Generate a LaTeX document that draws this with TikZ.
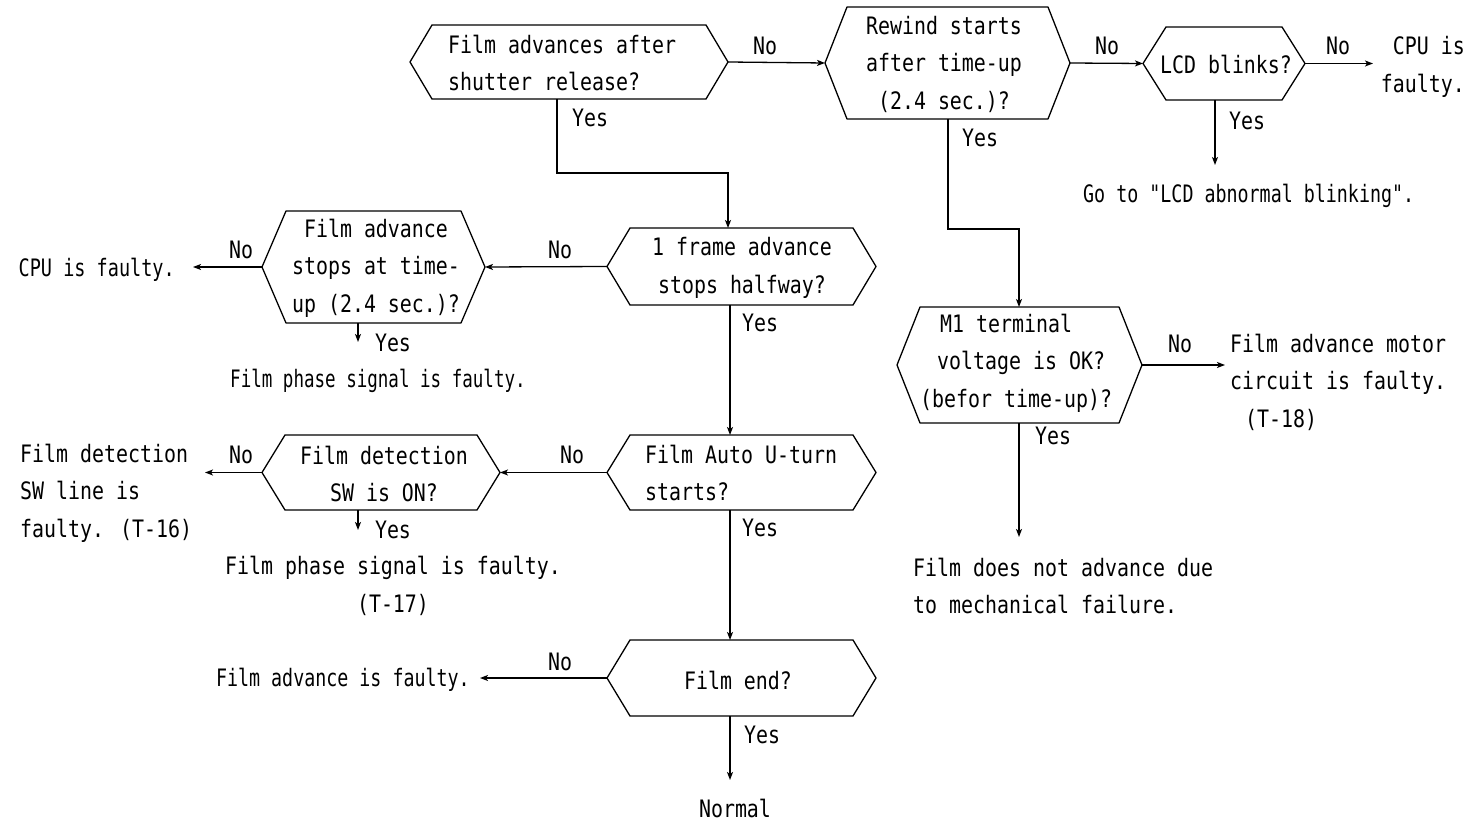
\documentclass[tikz,border=0pt]{standalone}
\usepackage{fontspec}
\usetikzlibrary{arrows.meta}
\newfontfamily\flowfont[FakeStretch=0.83]{DejaVu Sans Mono}

\tikzset{
  hexline/.style={line width=1.3pt, line join=round},
  link/.style={line width=1.3pt},
  arr/.style={link, -{Stealth[length=8pt,width=6pt,inset=2pt]}},
  txt/.style={inner sep=0pt, font=\flowfont\fontsize{24}{37.5}\selectfont},
}

% horizontally condensed text
\newcommand\narrow[2]{\scalebox{#1}[1]{#2}}

% decision box: name, x of left tip, x of right tip, y top, y bottom, corner inset
\newcommand\hexbox[6]{%
  \coordinate (#1-w) at (#2,{(#4+#5)/2});
  \coordinate (#1-e) at (#3,{(#4+#5)/2});
  \draw[hexline] (#1-w) -- ({#2+#6},#4) -- ({#3-#6},#4) -- (#1-e)
     -- ({#3-#6},#5) -- ({#2+#6},#5) -- cycle;
}

\begin{document}
\begin{tikzpicture}[x=1pt,y=-1pt]
\useasboundingbox (0,0) rectangle (1484,826);

% ---------- decision boxes ----------
\hexbox{a}{410}{728}{25}{99}{22}
\hexbox{b}{825}{1070}{7}{119}{22}
\hexbox{c}{1143}{1305}{27}{100}{23}
\hexbox{d}{607}{876}{228}{305}{23}
\hexbox{e}{262}{485}{211}{323}{24}
\hexbox{f}{607}{876}{435}{510}{23}
\hexbox{g}{262}{500}{435}{510}{23}
\hexbox{h}{607}{876}{640}{716}{23}
\hexbox{m}{897}{1142}{307}{423}{23}

% attach points on box edges
\coordinate (a-s) at (557,99);
\coordinate (b-s) at (948,119);
\coordinate (c-s) at (1215,100);
\coordinate (d-n) at (728,228);
\coordinate (d-s) at (730,305);
\coordinate (e-s) at (358,323);
\coordinate (f-n) at (730,435);
\coordinate (f-s) at (730,510);
\coordinate (g-s) at (358,510);
\coordinate (h-n) at (730,640);
\coordinate (h-s) at (730,716);
\coordinate (m-n) at (1019,307);
\coordinate (m-s) at (1019,423);

% ---------- box texts ----------
\node[txt, anchor=west, align=left] (ta) at (448,63) {Film advances after\\shutter release?};
\node[txt, align=center] (tb) at (944,64) {Rewind starts\\after time-up\\(2.4 sec.)?};
\node[txt] (tc) at (1226,64) {LCD blinks?};
\node[txt, align=center] (td) at (742,268) {1 frame advance\\stops halfway?};
\node[txt, align=center] (te) at (376,268) {Film advance\\stops at time-\\up (2.4 sec.)?};
\node[txt, anchor=west, align=left] (tf) at (645,473) {Film Auto U-turn\\starts?};
\node[txt, align=center] (tg) at (384,474) {Film detection\\SW is ON?};
\node[txt] (th) at (738,680) {Film end?};
\node[txt, anchor=west, align=left] (tm) at (920,363)
  {\hspace*{20pt}M1 terminal\\\hspace*{17pt}voltage is OK?\\(befor time-up)?};

% ---------- results ----------
\node[txt, anchor=east, align=right] (r1) at (1465,67) {CPU is\\faulty.};
\node[txt, anchor=west] (r2) at (1083,196) {\narrow{0.92}{Go to "LCD abnormal blinking".}};
\node[txt, anchor=east] (r3) at (175,270) {\narrow{0.93}{CPU is faulty.}};
\node[txt, anchor=west] (r4) at (230,381) {\narrow{0.88}{Film phase signal is faulty.}};
\node[txt, anchor=west, align=left] (r5) at (20,493) {Film detection\\SW line is\\faulty. (T-16)};
\node[txt, align=center] (r6) at (393,586) {Film phase signal is faulty.\\(T-17)};
\node[txt, anchor=east] (r7) at (470,680) {\narrow{0.92}{Film advance is faulty.}};
\node[txt] (r8) at (735,808) {Normal};
\node[txt, anchor=west, align=left] (r9) at (1230,382)
  {Film advance motor\\circuit is faulty.\\\hspace*{15pt}(T-18)};
\node[txt, anchor=west, align=left] (r10) at (913,586)
  {Film does not advance due\\to mechanical failure.};

% free ends of the result arrows
\coordinate (c-no) at ([xshift=68pt]c-e);
\coordinate (c-yes) at (1215,165);
\coordinate (e-no) at ([xshift=-69pt]e-w);
\coordinate (e-yes) at (358,342);
\coordinate (g-no) at ([xshift=-57pt]g-w);
\coordinate (g-yes) at (358,530);
\coordinate (h-no) at ([xshift=-127pt]h-w);
\coordinate (h-yes) at (730,780);
\coordinate (m-no) at ([xshift=83pt]m-e);
\coordinate (m-yes) at (1019,537);

% ---------- connectors ----------
\draw[arr] (a-e) -- (b-w);
\draw[arr] (a-s) -- (557,173) -- (728,173) -- (d-n);
\draw[arr] (b-e) -- (c-w);
\draw[arr] (b-s) -- (948,229) -- (1019,229) -- (m-n);
\draw[arr] (c-e) -- (c-no);
\draw[arr] (c-s) -- (c-yes);
\draw[arr] (d-w) -- (e-e);
\draw[arr] (d-s) -- (f-n);
\draw[arr] (e-w) -- (e-no);
\draw[arr] (e-s) -- (e-yes);
\draw[arr] (f-w) -- (g-e);
\draw[arr] (f-s) -- (h-n);
\draw[arr] (g-w) -- (g-no);
\draw[arr] (g-s) -- (g-yes);
\draw[arr] (h-w) -- (h-no);
\draw[arr] (h-s) -- (h-yes);
\draw[arr] (m-e) -- (m-no);
\draw[arr] (m-s) -- (m-yes);

% ---------- branch labels ----------
\node[txt] (l1) at (765,46) {No};
\node[txt] (l2) at (590,118) {Yes};
\node[txt] (l3) at (1107,46) {No};
\node[txt] (l4) at (980,138) {Yes};
\node[txt] (l5) at (1338,46) {No};
\node[txt] (l6) at (1247,121) {Yes};
\node[txt] (l7) at (560,250) {No};
\node[txt] (l8) at (760,323) {Yes};
\node[txt] (l9) at (241,250) {No};
\node[txt] (l10) at (393,343) {Yes};
\node[txt] (l11) at (572,455) {No};
\node[txt] (l12) at (760,528) {Yes};
\node[txt] (l13) at (241,455) {No};
\node[txt] (l14) at (393,530) {Yes};
\node[txt] (l15) at (560,662) {No};
\node[txt] (l16) at (762,735) {Yes};
\node[txt] (l17) at (1180,344) {No};
\node[txt] (l18) at (1053,436) {Yes};
\end{tikzpicture}
\end{document}
